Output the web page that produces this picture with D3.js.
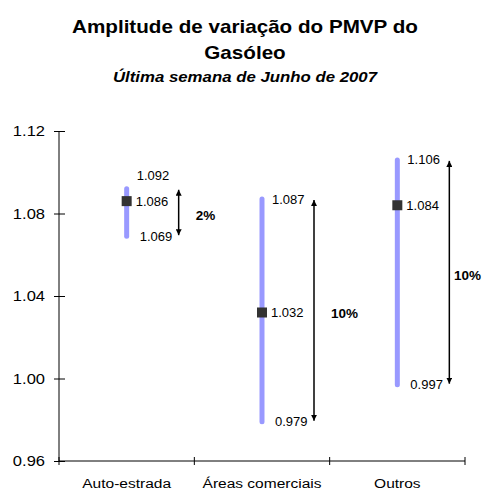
<!DOCTYPE html>
<html>
<head>
<meta charset="utf-8">
<script src="https://cdn.jsdelivr.net/npm/d3@7"></script>
<style>
  body { margin: 0; background: #fff; }
  text { font-family: "Liberation Sans", Arial, sans-serif; }
</style>
</head>
<body>
<svg id="chart" width="483" height="491"></svg>
<script>
let categories = ["Auto-estrada", "Áreas comerciais", "Outros"];
let maxValues = [1.092, 1.087, 1.106];
let meanValues = [1.086, 1.032, 1.084];
let minValues = [1.069, 0.979, 0.997];
let amplitude = ["2%", "10%", "10%"];
let yTicks = [0.96, 1.00, 1.04, 1.08, 1.12];

let width = 483, height = 491;
let svg = d3.select("#chart");

let x = d3.scaleBand().domain(categories).range([59, 465]).padding(0);
let y = d3.scaleLinear().domain([0.96, 1.12]).range([461, 131]);

// the original text is a bit wider than Liberation Sans, stretch it horizontally
let wide = (sel, px, py, sx) => sel.attr("x", 0).attr("y", 0)
  .attr("transform", `translate(${px},${py}) scale(${sx},1)`);

// title
let title = svg.append("g").attr("text-anchor", "middle").attr("fill", "#000");
title.append("text").call(wide, 245, 33, 1.18)
  .attr("font-size", 17.5).attr("font-weight", "bold")
  .text("Amplitude de variação do PMVP do");
title.append("text").call(wide, 245, 58.5, 1.18)
  .attr("font-size", 17.5).attr("font-weight", "bold")
  .text("Gasóleo");
title.append("text").call(wide, 245, 82, 1.2)
  .attr("font-size", 14).attr("font-weight", "bold").attr("font-style", "italic")
  .text("Última semana de Junho de 2007");

// y axis
let yAxis = svg.append("g")
  .attr("transform", "translate(59,0)")
  .call(d3.axisLeft(y).tickValues(yTicks).tickFormat(d3.format(".2f")).tickSize(5));
yAxis.selectAll(".tick").append("line").attr("x2", 6).attr("stroke", "#000");
yAxis.select(".domain").attr("d", `M0,${y(0.96)}V${y(1.12)}`);
yAxis.selectAll(".tick text")
  .attr("x", 0).attr("dy", "0.35em")
  .attr("transform", "translate(-14,0) scale(1.18,1)")
  .attr("font-size", 14).attr("fill", "#000")
  .attr("font-family", "Liberation Sans, Arial, sans-serif");

// x axis: ticks at category boundaries
let xAxis = svg.append("g").attr("transform", `translate(0,${y(0.96)})`);
xAxis.append("line").attr("x1", x.range()[0]).attr("x2", x.range()[1]).attr("stroke", "#000");
let bounds = categories.map(c => x(c)).concat([x.range()[1]]);
xAxis.selectAll(".xt").data(bounds).enter().append("line")
  .attr("x1", d => d).attr("x2", d => d).attr("y1", -4).attr("y2", 4)
  .attr("stroke", "#000");
xAxis.selectAll(".xl").data(categories).enter().append("text")
  .each(function(d) {
    d3.select(this).call(wide, x(d) + x.bandwidth() / 2, 27, 1.15);
  })
  .attr("text-anchor", "middle")
  .attr("font-size", 13.5)
  .attr("fill", "#000")
  .text(d => d);

// arrow markers
let defs = svg.append("defs");
["up", "down"].forEach(k => {
  defs.append("marker")
    .attr("id", "arr-" + k)
    .attr("viewBox", "0 0 10 10")
    .attr("refX", 5).attr("refY", k === "up" ? 0 : 10)
    .attr("markerWidth", 6).attr("markerHeight", 6)
    .attr("markerUnits", "userSpaceOnUse")
    .attr("orient", "0")
    .append("path")
    .attr("d", k === "up" ? "M0,10L5,0L10,10Z" : "M0,0L5,10L10,0Z")
    .attr("fill", "#000");
});

let rows = categories.map((c, i) => ({
  cat: c, max: maxValues[i], mean: meanValues[i], min: minValues[i], pct: amplitude[i]
}));

let series = svg.selectAll(".serie").data(rows).enter().append("g")
  .attr("transform", d => `translate(${x(d.cat) + x.bandwidth() / 2},0)`);

// range line
series.append("line")
  .attr("y1", d => y(d.max)).attr("y2", d => y(d.min))
  .attr("stroke", "#9999ff").attr("stroke-width", 5).attr("stroke-linecap", "round");

// mean square
series.append("rect")
  .attr("x", -5).attr("y", d => y(d.mean) - 5)
  .attr("width", 10).attr("height", 10)
  .attr("fill", "#333333");

// value labels (nudge apart if they collide)
let fmt = d3.format(".3f");
series.each(function(d) {
  let g = d3.select(this);
  let yMean = y(d.mean);
  let yMax = Math.min(y(d.max), yMean - 26);
  let yMin = Math.max(y(d.min), yMean + 30);
  [[d.max, yMax, 10], [d.mean, yMean, 9], [d.min, yMin, 13]].forEach(([v, py, dx]) => {
    g.append("text")
      .attr("x", dx).attr("y", py)
      .attr("dy", "0.35em")
      .attr("font-size", 13)
      .attr("fill", "#000")
      .text(fmt(v));
  });
});

// amplitude arrows
series.append("line")
  .attr("x1", 52).attr("x2", 52)
  .attr("y1", d => y(d.max) + 1).attr("y2", d => y(d.min) - 1)
  .attr("stroke", "#000").attr("stroke-width", 1.5)
  .attr("marker-start", "url(#arr-up)")
  .attr("marker-end", "url(#arr-down)");

series.append("text")
  .attr("x", function(d) {
    let cx = x(d.cat) + x.bandwidth() / 2;
    return Math.min(69, width - 2 - 27 - cx);
  })
  .attr("y", d => (y(d.max) + y(d.min)) / 2 + 3)
  .attr("dy", "0.35em")
  .attr("font-size", 13.5).attr("font-weight", "bold")
  .attr("fill", "#000")
  .text(d => d.pct);
</script>
</body>
</html>
